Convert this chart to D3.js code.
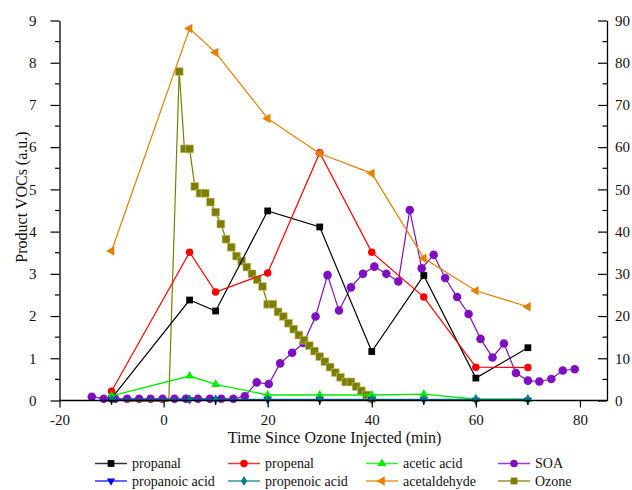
<!DOCTYPE html>
<html>
<head>
<meta charset="utf-8">
<script src="https://cdn.jsdelivr.net/npm/d3@7"></script>
<style>
  body { margin: 0; background: #fff; }
  svg { display: block; }
  svg text { font-family: "Liberation Serif", "Times New Roman", Times, "DejaVu Serif", serif; }
</style>
</head>
<body>
<svg id="chart" width="632" height="490"></svg>
<script>
// Sampling times (min) for the carbonyl / acid product measurements
const timesVOC = [-10, 5, 10, 20, 30, 40, 50, 60, 70];
const propanal      = [0.05, 2.38, 2.12, 4.49, 4.11, 1.16, 2.96, 0.53, 1.25];
const propenal      = [0.22, 3.51, 2.57, 3.02, 5.87, 3.51, 2.45, 0.79, 0.78];
const aceticAcid    = [0.11, 0.58, 0.38, 0.13, 0.13, 0.13, 0.15, 0.03, 0.03];
const propanoicAcid = [0.02, 0.02, 0.02, 0.02, 0.02, 0.02, 0.02, 0.01, 0.01];
const propenoicAcid = [0.03, 0.03, 0.03, 0.03, 0.03, 0.03, 0.03, 0.03, 0.03];
const acetaldehyde  = [3.54, 8.81, 8.24, 6.68, 5.85, 5.38, 3.37, 2.60, 2.22];

// Secondary organic aerosol signal (left axis units)
const timesSOA = [-13.8, -11.5, -9.3, -7.0, -4.7, -2.5, -0.2, 2.1, 4.3, 6.6,
                  8.9, 11.1, 13.4, 15.6, 17.9, 20.2, 22.4, 24.7, 26.9, 29.2,
                  31.5, 33.7, 36.0, 38.3, 40.5, 42.8, 45.1, 47.3, 49.6, 51.9,
                  54.1, 56.4, 58.6, 60.9, 63.2, 65.4, 67.7, 70.0, 72.2, 74.5,
                  76.7, 79.0];
const soa = [0.09, 0.04, 0.04, 0.04, 0.04, 0.04, 0.04, 0.04, 0.04, 0.04,
             0.04, 0.04, 0.04, 0.10, 0.43, 0.39, 0.88, 1.13, 1.36, 1.99,
             2.97, 2.13, 2.68, 3.00, 3.17, 3.00, 2.82, 4.51, 3.13, 3.45,
             2.90, 2.45, 2.05, 1.46, 1.02, 1.35, 0.65, 0.47, 0.45, 0.51,
             0.71, 0.74];

// Ozone (right axis units)
const timesOzone = [-7, 1, 3, 4, 5, 6, 7, 8, 9, 10, 11, 12, 13, 14, 15, 16, 17, 18, 19,
                    20, 21, 22, 23, 24, 25, 26, 27, 28, 29, 30, 31, 32, 33, 34, 35,
                    36, 37, 38, 39, 40];
const ozone = [0, 0, 77.9, 59.6, 59.6, 50.7, 49.1, 49.1, 47.0, 44.6, 41.8, 38.2,
               36.3, 34.2, 33.0, 31.6, 30.0, 28.6, 27.0, 22.8, 22.8, 21.0, 19.9,
               18.3, 16.9, 15.5, 14.3, 13.0, 11.7, 10.4, 9.2, 7.9, 6.6, 5.5, 4.4,
               4.4, 3.3, 2.3, 1.3, 0.5];

const xTickValues = [-20, 0, 20, 40, 60, 80];
const xMinorTicks = [-10, 10, 30, 50, 70];
const yLeftTicks = [0, 1, 2, 3, 4, 5, 6, 7, 8, 9];
const yRightTicks = [0, 10, 20, 30, 40, 50, 60, 70, 80, 90];

const xTitle = "Time Since Ozone Injected (min)";
const yTitle = "Product VOCs (a.u.)";

const serif = '"Liberation Serif", "Times New Roman", Times, "DejaVu Serif", serif';
const svg = d3.select("#chart");

const x = d3.scaleLinear().domain([-20, 85.2]).range([59.5, 607]);
const yL = d3.scaleLinear().domain([0, 9]).range([400.5, 20.5]);
const yR = d3.scaleLinear().domain([0, 90]).range([400.5, 20.5]);

// marker shapes
const shapes = {
  square:  { type: d3.symbolSquare,   size: 46, rot: 0 },
  circle:  { type: d3.symbolCircle,   size: 44, rot: 0 },
  bigcircle: { type: d3.symbolCircle, size: 58, rot: 0 },
  up:      { type: d3.symbolTriangle, size: 34, rot: 0 },
  down:    { type: d3.symbolTriangle, size: 30, rot: 180 },
  left:    { type: d3.symbolTriangle, size: 40, rot: -90 },
  diamond: { type: d3.symbolDiamond,  size: 30, rot: 0 },
  ozsq:    { type: d3.symbolSquare,   size: 62, rot: 0 }
};

function drawMarker(g, shape, px, py, fill, stroke) {
  const s = shapes[shape];
  g.append("path")
    .attr("d", d3.symbol(s.type, s.size)())
    .attr("transform", `translate(${px},${py}) rotate(${s.rot})`)
    .attr("fill", fill)
    .attr("stroke", stroke || "none")
    .attr("stroke-width", stroke ? 0.6 : 0);
}

const series = [
  { name: "SOA", t: timesSOA, v: soa, y: yL, color: "#7f0fc2", shape: "bigcircle", lw: 1.2 },
  { name: "Ozone", t: timesOzone, v: ozone, y: yR, color: "#7d7d00", shape: "ozsq", lw: 1.2,
    markerStroke: "#c9c78a", markIf: v => v > 0 },
  { name: "propanal", t: timesVOC, v: propanal, y: yL, color: "#000000", shape: "square", lw: 1.2 },
  { name: "propenal", t: timesVOC, v: propenal, y: yL, color: "#ff0000", shape: "circle", lw: 1.2 },
  { name: "acetic acid", t: timesVOC, v: aceticAcid, y: yL, color: "#00ee00", shape: "up", lw: 1.3 },
  { name: "propanoic acid", t: timesVOC, v: propanoicAcid, y: yL, color: "#0000ff", shape: "down", lw: 1.2 },
  { name: "propenoic acid", t: timesVOC, v: propenoicAcid, y: yL, color: "#008080", shape: "diamond", lw: 1.2 },
  { name: "acetaldehyde", t: timesVOC, v: acetaldehyde, y: yL, color: "#e58000", shape: "left", lw: 1.2 }
];

const plot = svg.append("g");
series.forEach(s => {
  const pts = s.t.map((t, i) => [t, s.v[i]]);
  const line = d3.line().x(d => x(d[0])).y(d => s.y(d[1]));
  const g = plot.append("g");
  g.append("path")
    .attr("d", line(pts))
    .attr("fill", "none")
    .attr("stroke", s.color)
    .attr("stroke-width", s.lw);
  if (s.name === "Ozone") {
    // heavier baseline segment before injection
    const pre = pts.filter(d => d[1] === 0);
    g.append("path").attr("d", line(pre)).attr("fill", "none")
      .attr("stroke", s.color).attr("stroke-width", 2.5);
  }
  pts.forEach(d => {
    if (s.markIf && !s.markIf(d[1])) return;
    drawMarker(g, s.shape, x(d[0]), s.y(d[1]), s.color, s.markerStroke);
  });
});

// axes
const axisColor = "#000";
const fontSize = 15;

function styleTicks(g) {
  g.attr("font-family", serif);
  g.selectAll(".tick line").attr("stroke", axisColor).attr("stroke-width", 1.2);
  g.selectAll(".tick text").attr("font-size", fontSize).attr("font-family", serif).attr("fill", "#111");
}

// bottom axis
const gx = svg.append("g").attr("transform", "translate(0,400.5)");
gx.call(d3.axisBottom(x).tickValues(xTickValues).tickFormat(d => String(d))
  .tickSize(7).tickPadding(7))
  .call(g => g.select(".domain").remove());
gx.append("line").attr("x1", 59.5).attr("x2", 607).attr("stroke", axisColor).attr("stroke-width", 1.3);
styleTicks(gx);
xMinorTicks.forEach(v => {
  gx.append("line").attr("x1", x(v)).attr("x2", x(v)).attr("y1", 0).attr("y2", 4.5)
    .attr("stroke", axisColor).attr("stroke-width", 1.2);
});

// left axis
const gl = svg.append("g").attr("transform", "translate(59.5,0)");
gl.call(d3.axisLeft(yL).tickValues(yLeftTicks).tickFormat(d => String(d))
  .tickSizeInner(9).tickSizeOuter(0).tickPadding(14));
gl.select(".domain").attr("stroke", axisColor).attr("stroke-width", 1.3);
styleTicks(gl);
yLeftTicks.slice(0, -1).forEach(v => {
  gl.append("line").attr("x1", -4.5).attr("x2", 0).attr("y1", yL(v + 0.5)).attr("y2", yL(v + 0.5))
    .attr("stroke", axisColor).attr("stroke-width", 1.2);
});

// right axis (ticks point inward)
const gr = svg.append("g").attr("transform", "translate(607,0)");
gr.call(d3.axisRight(yR).tickValues(yRightTicks).tickFormat(d => String(d))
  .tickSizeInner(-9).tickSizeOuter(0).tickPadding(8));
gr.select(".domain").attr("stroke", axisColor).attr("stroke-width", 1.3);
styleTicks(gr);
yRightTicks.slice(0, -1).forEach(v => {
  gr.append("line").attr("x1", -4.5).attr("x2", 0).attr("y1", yR(v + 5)).attr("y2", yR(v + 5))
    .attr("stroke", axisColor).attr("stroke-width", 1.2);
});

// axis titles
svg.append("text")
  .attr("x", 334.5).attr("y", 443)
  .attr("text-anchor", "middle")
  .attr("font-family", serif)
  .attr("font-size", 16).attr("fill", "#111")
  .text(xTitle);

svg.append("text")
  .attr("transform", "translate(27,197) rotate(-90)")
  .attr("text-anchor", "middle")
  .attr("font-family", serif)
  .attr("font-size", 16).attr("fill", "#111")
  .text(yTitle);

// legend
const legendOrder = ["propanal", "propenal", "acetic acid", "SOA",
                     "propanoic acid", "propenoic acid", "acetaldehyde", "Ozone"];
const colX = [95, 228, 366, 498];
const rowY = [463.5, 481];
legendOrder.forEach((name, i) => {
  const s = series.find(d => d.name === name);
  const lx = colX[i % 4], ly = rowY[Math.floor(i / 4)];
  const g = svg.append("g");
  g.append("line").attr("x1", lx).attr("x2", lx + 32).attr("y1", ly).attr("y2", ly)
    .attr("stroke", s.color).attr("stroke-width", 1.5).attr("opacity", 0.8);
  const shape = s.shape === "bigcircle" ? "circle" : (s.shape === "ozsq" ? "square" : s.shape);
  drawMarker(g, shape, lx + 16, ly, s.color, null);
  g.append("text").attr("x", lx + 37).attr("y", ly + 4.5)
    .attr("font-family", serif)
    .attr("font-size", 14).attr("fill", "#111").text(name);
});
</script>
</body>
</html>
